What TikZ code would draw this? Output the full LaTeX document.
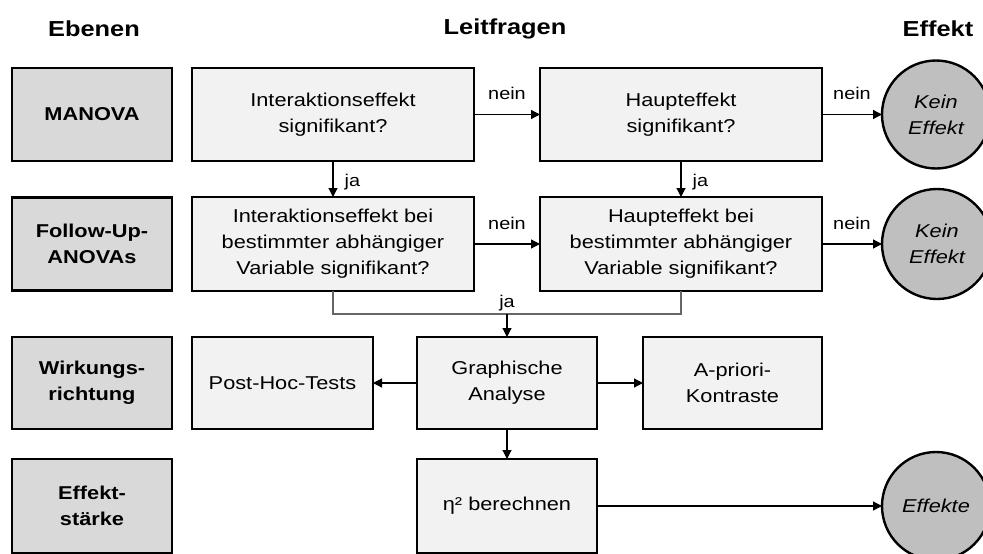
\documentclass[tikz,border=0pt]{standalone}
\usepackage{fontspec}
\setmainfont{Liberation Sans}[FakeStretch=1.17]
\usetikzlibrary{arrows.meta}
\tikzset{
  level/.style={draw=black, line width=2.6pt, fill=lvlgray, minimum width=160pt, minimum height=93pt, inner sep=0pt, outer sep=0pt, align=center, font=\fontsize{18.6}{26}\selectfont\bfseries},
  qbox/.style={draw=black, line width=2.6pt, fill=qgray, minimum height=93pt, inner sep=0pt, outer sep=0pt, align=center, font=\fontsize{18.6}{26}\selectfont},
  effbox/.style={circle, draw=black, line width=2.4pt, fill=cgray, inner sep=0pt, outer sep=0pt, align=center, font=\fontsize{18.6}{26}\selectfont\itshape},
  head/.style={font=\fontsize{21.7}{26}\selectfont\bfseries},
  conn/.style={line width=1.2pt, -{Triangle[length=9pt,width=9pt]}},
  merge/.style={line width=1.2pt, draw=black!60},
  lbl/.style={font=\fontsize{17}{20}\selectfont, inner sep=1pt}
}
\definecolor{lvlgray}{HTML}{D9D9D9}
\definecolor{qgray}{HTML}{F2F2F2}
\definecolor{cgray}{HTML}{BFBFBF}
\begin{document}
\begin{tikzpicture}[x=1pt,y=-1pt]
\clip (0,0) rectangle (983,554);
\fill[white] (0,0) rectangle (983,554);
% headers
\node[head] (hEb) at (94,29) {Ebenen};
\node[head] (hLf) at (505,29) {Leitfragen};
\node[head] (hEf) at (938,29) {Effekt};
% level boxes
\node[level] (L1) at (92,114.5) {MANOVA};
\node[level] (L2) at (92,244) {Follow-Up-\\ANOVAs};
\node[level, minimum height=92pt] (L3) at (92,383) {Wirkungs-\\richtung};
\node[level, minimum height=94pt] (L4) at (92,506) {Effekt-\\stärke};
% question boxes
\node[qbox, minimum width=282pt] (Q1) at (333,114.5) {Interaktionseffekt\\signifikant?};
\node[qbox, minimum width=282pt] (Q2) at (681,114.5) {Haupteffekt\\signifikant?};
\node[qbox, minimum width=282pt, minimum height=94pt] (Q3) at (333,244) {Interaktionseffekt bei\\bestimmter abhängiger\\Variable signifikant?};
\node[qbox, minimum width=282pt, minimum height=94pt] (Q4) at (681,244) {Haupteffekt bei\\bestimmter abhängiger\\Variable signifikant?};
\node[qbox, minimum width=181pt, minimum height=92pt] (PH) at (282.5,383) {Post-Hoc-Tests};
\node[qbox, minimum width=180pt, minimum height=92pt] (GA) at (507,383) {Graphische\\Analyse};
\node[qbox, minimum width=179pt, minimum height=92pt] (AP) at (732.5,383) {A-priori-\\Kontraste};
\node[qbox, minimum width=180pt, minimum height=94pt] (ETA) at (507,506) {η² berechnen};
% effect circles
\node[effbox, minimum size=108pt] (C1) at (936,114.5) {Kein\\Effekt};
\node[effbox, minimum size=110pt] (C2) at (937,244) {Kein\\Effekt};
\node[effbox, minimum size=108pt] (C3) at (936,506) {Effekte};
% connectors
\draw[conn] (Q1) -- node[lbl, above=13pt] {nein} (Q2);
\draw[conn] (Q2) -- node[lbl, above=13pt] {nein} (C1);
\draw[conn] (Q3) -- node[lbl, above=13pt] {nein} (Q4);
\draw[conn] (Q4) -- node[lbl, above=13pt] {nein} (C2);
\draw[conn] (Q1) -- node[lbl, right=10pt, yshift=-3pt] {ja} (Q3);
\draw[conn] (Q2) -- node[lbl, right=10pt, yshift=-3pt] {ja} (Q4);
\coordinate (mL) at (333,314);
\coordinate (mR) at (681,314);
\coordinate (mM) at (507,314);
\draw[merge] (Q3.south) -- (mL) -- (mR) -- (Q4.south);
\node[lbl, above=2pt] (ja3) at (mM) {ja};
\draw[conn] (mM) -- (GA);
\draw[conn] (GA) -- (PH);
\draw[conn] (GA) -- (AP);
\draw[conn] (GA) -- (ETA);
\draw[conn] (ETA) -- (C3);
\end{tikzpicture}
\end{document}
